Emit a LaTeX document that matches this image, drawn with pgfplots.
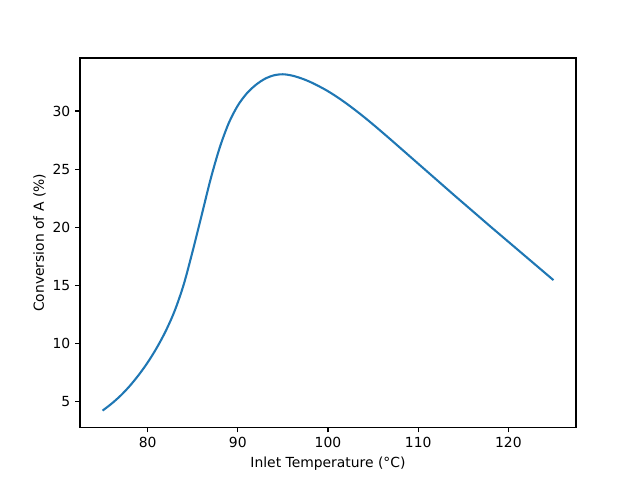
\documentclass[border=0pt]{standalone}
\usepackage{pgfplots}
\pgfplotsset{compat=1.18}
\usepackage{fontspec}
\setmainfont{DejaVu Sans}
\definecolor{tabblue}{HTML}{1F77B4}
\begin{document}
\begin{tikzpicture}
\begin{axis}[
  scale only axis,
  width=357.1pt, height=266.1pt,
  xmin=72.5, xmax=127.5,
  ymin=2.76, ymax=34.56,
  xtick={80,90,100,110,120},
  ytick={5,10,15,20,25,30},
  tick align=outside,
  major tick length=3.5pt,
  tick style={black, line width=0.8pt},
  xtick pos=bottom, ytick pos=left,
  axis line style={line width=0.8pt},
  /pgf/number format/assume math mode=true,
  tick label style={font=\fontsize{10}{12}\selectfont},
  label style={font=\fontsize{10}{12}\selectfont},
  xlabel={Inlet Temperature (°C)},
  ylabel={Conversion of A (\%)},
  ylabel style={yshift=-2pt},
]
\addplot[tabblue, line width=1.5pt, smooth] coordinates {
(75,4.22) (76,4.82) (77,5.51) (78,6.33) (79,7.28) (80,8.36) (81,9.61)
(82,11.06) (83,12.81) (84,15.07) (85,17.97) (86,21.07) (87,24.19)
(88,26.87) (89,28.97) (90,30.47) (91,31.52) (92,32.25) (93,32.77)
(94,33.07) (95,33.16) (96,33.05) (97,32.82) (98,32.51) (99,32.13)
(100,31.70) (101,31.21) (102,30.67) (103,30.09) (104,29.48) (105,28.84)
(106,28.18) (107,27.51) (108,26.83) (109,26.15) (110,25.47) (111,24.79)
(112,24.11) (113,23.43) (114,22.75) (115,22.08) (116,21.41) (117,20.74)
(118,20.07) (119,19.41) (120,18.75) (121,18.09) (122,17.43) (123,16.77)
(124,16.11) (125,15.45)
};
\end{axis}
\path (current axis.south west) ++(-57.6pt,-38.16pt) coordinate (bbsw);
\path (current axis.north east) ++(46.08pt,41.76pt) coordinate (bbne);
\useasboundingbox (bbsw) rectangle (bbne);
\end{tikzpicture}
\end{document}
